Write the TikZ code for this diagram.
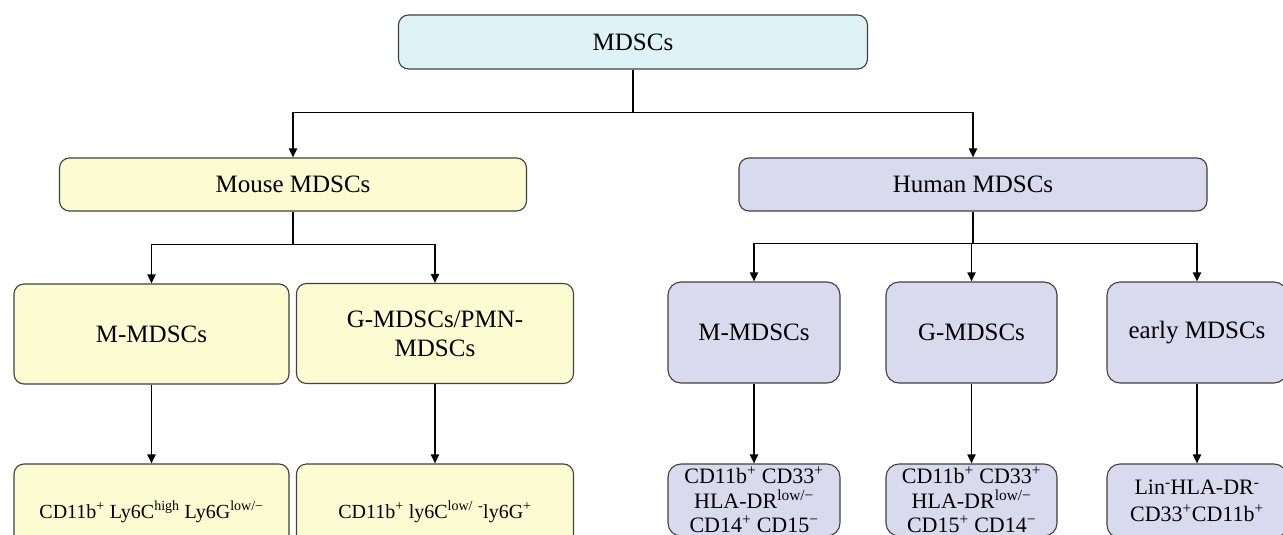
\documentclass[tikz,border=0pt]{standalone}
\usepackage{fontspec}
\setmainfont{Liberation Serif}
\usetikzlibrary{arrows.meta,calc}
\definecolor{topfill}{HTML}{DDF3F5}
\definecolor{mousefill}{HTML}{FCFCD3}
\definecolor{humanfill}{HTML}{D9DAED}
\definecolor{boxline}{HTML}{404040}
\tikzset{
  box/.style={draw=boxline, line width=1.1pt, rounded corners=10pt, inner sep=0pt, align=center, font=\fontsize{25}{29}\selectfont},
  topbox/.style={box, fill=topfill},
  mousebox/.style={box, fill=mousefill},
  humanbox/.style={box, fill=humanfill},
  conn/.style={line width=1.8pt, black},
  arr/.style={conn, -{Triangle[length=9pt,width=8pt]}},
}
\begin{document}
\begin{tikzpicture}[x=1pt,y=-1pt]
\useasboundingbox (0,0) rectangle (1283,535);
\clip (0,0) rectangle (1283,535);
\fill[white] (0,0) rectangle (1283,535);
% level 0
\node[topbox, minimum width=469pt, minimum height=54pt] (top) at (633,42) {MDSCs};
% level 1
\node[mousebox, minimum width=467pt, minimum height=53pt] (mouse) at (293,184.5) {Mouse MDSCs};
\node[humanbox, minimum width=468pt, minimum height=53pt] (human) at (973,184.5) {Human MDSCs};
% level 2
\node[mousebox, minimum width=275pt, minimum height=100pt] (mM) at (151.5,334) {M-MDSCs};
\node[mousebox, minimum width=277pt, minimum height=100pt] (mG) at (435,333.5) {G-MDSCs/PMN-\\MDSCs};
\node[humanbox, minimum width=172pt, minimum height=101pt, rounded corners=13pt] (hM) at (754,332.5) {M-MDSCs};
\node[humanbox, minimum width=171pt, minimum height=101pt, rounded corners=13pt] (hG) at (971.5,332.5) {G-MDSCs};
\node[humanbox, minimum width=180pt, minimum height=101pt, rounded corners=13pt] (hE) at (1197,332.5) {early MDSCs};
% level 3
\node[mousebox, minimum width=275pt, minimum height=96pt, font=\fontsize{20}{23}\selectfont] (mMb) at (151.5,512)
  {CD11b\textsuperscript{+} Ly6C\textsuperscript{high} Ly6G\textsuperscript{low/−}};
\node[mousebox, minimum width=277pt, minimum height=96pt, font=\fontsize{20}{23}\selectfont] (mGb) at (435,512)
  {CD11b\textsuperscript{+} ly6C\textsuperscript{low/} \textsuperscript{-}ly6G\textsuperscript{+}};
\node[humanbox, minimum width=172pt, minimum height=72pt, rounded corners=13pt, font=\fontsize{22}{24.5}\selectfont] (hMb) at (754,500)
  {CD11b\textsuperscript{+} CD33\textsuperscript{+}\\HLA-DR\textsuperscript{low/−}\\CD14\textsuperscript{+} CD15\textsuperscript{−}};
\node[humanbox, minimum width=171pt, minimum height=72pt, rounded corners=13pt, font=\fontsize{22}{24.5}\selectfont] (hGb) at (971.5,500)
  {CD11b\textsuperscript{+} CD33\textsuperscript{+}\\HLA-DR\textsuperscript{low/−}\\CD15\textsuperscript{+} CD14\textsuperscript{−}};
\node[humanbox, minimum width=180pt, minimum height=74pt, rounded corners=13pt, font=\fontsize{22}{26.5}\selectfont] (hEb) at (1197,501)
  {Lin\textsuperscript{-}HLA-DR\textsuperscript{-}\\CD33\textsuperscript{+}CD11b\textsuperscript{+}};
% connectors
\draw[arr] (top.south) -- ($(top.south)+(0,43)$) -| (mouse.north);
\draw[arr] (top.south) -- ($(top.south)+(0,43)$) -| (human.north);
\draw[arr] (mouse.south) -- ($(mouse.south)+(0,33)$) -| (mM.north);
\draw[arr] (mouse.south) -- ($(mouse.south)+(0,33)$) -| (mG.north);
\draw[arr] (human.south) -- ($(human.south)+(0,32)$) -| (hM.north);
\draw[arr] (human.south) -- ($(human.south)+(0,32)$) -| (hG.north);
\draw[arr] (human.south) -- ($(human.south)+(0,32)$) -| (hE.north);
\draw[arr] (mM.south) -- (mMb.north);
\draw[arr] (mG.south) -- (mGb.north);
\draw[arr] (hM.south) -- (hMb.north);
\draw[arr] (hG.south) -- (hGb.north);
\draw[arr] (hE.south) -- (hEb.north);
\end{tikzpicture}
\end{document}
